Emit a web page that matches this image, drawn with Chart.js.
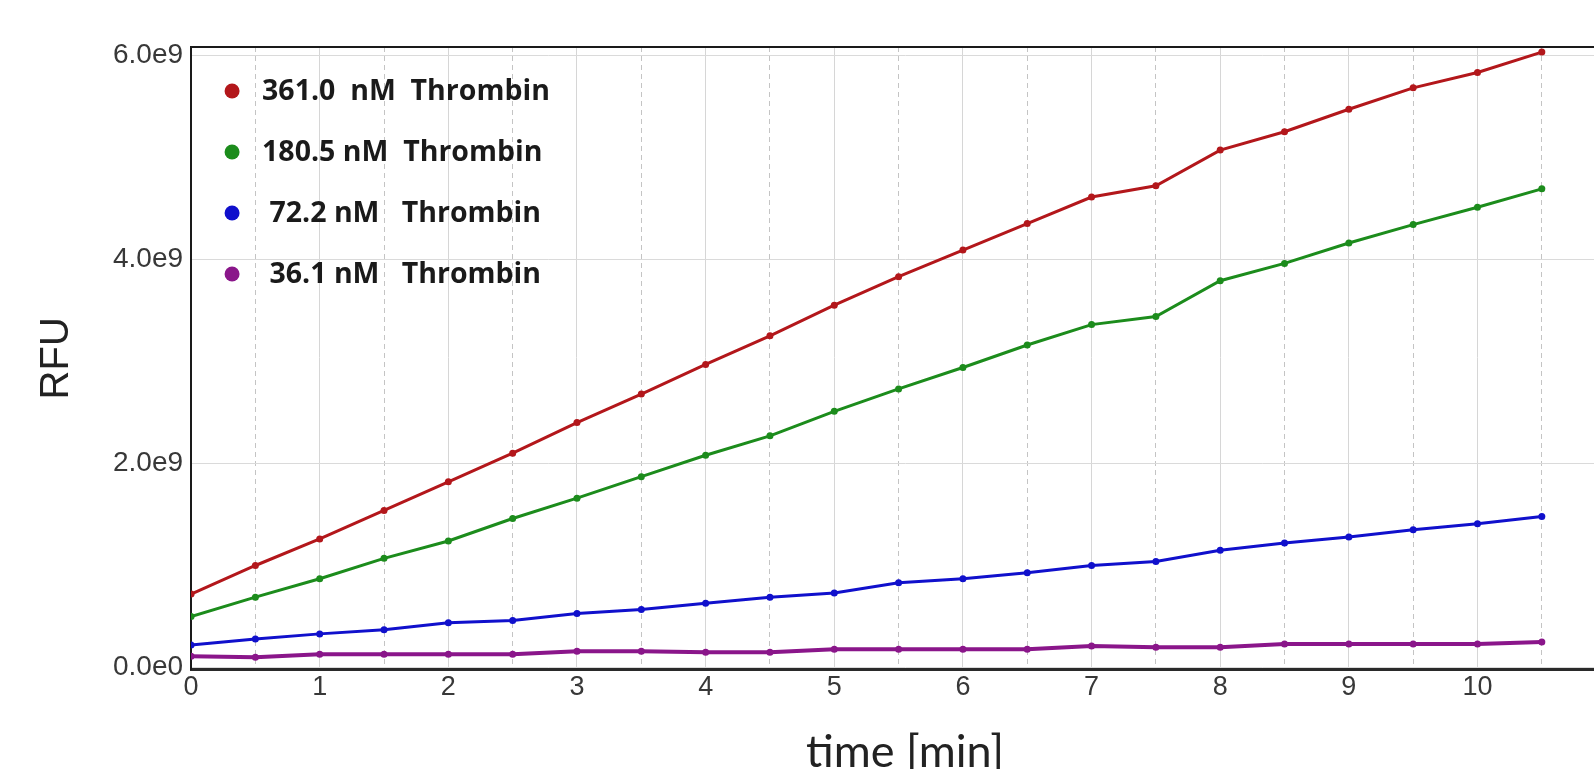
<!DOCTYPE html>
<html>
<head>
<meta charset="utf-8">
<script src="https://cdn.jsdelivr.net/npm/chart.js@4/dist/chart.umd.min.js"></script>
<style>
  html, body { margin: 0; padding: 0; background: #ffffff; overflow: hidden; width: 1594px; height: 769px; }
  #wrap { position: absolute; left: 0; top: 0; width: 1640px; height: 779px; }
</style>
</head>
<body>
<div id="wrap"><canvas id="c"></canvas></div>
<script>
// ---- data ----
const times = [0, 0.5, 1, 1.5, 2, 2.5, 3, 3.5, 4, 4.5, 5, 5.5, 6, 6.5, 7, 7.5, 8, 8.5, 9, 9.5, 10, 10.5];
const seriesLabels = ['361.0  nM  Thrombin', '180.5 nM  Thrombin', ' 72.2 nM   Thrombin', ' 36.1 nM   Thrombin'];
const rfu361 = [0.72e9, 1.00e9, 1.26e9, 1.54e9, 1.82e9, 2.10e9, 2.40e9, 2.68e9, 2.97e9, 3.25e9, 3.55e9, 3.83e9, 4.09e9, 4.35e9, 4.61e9, 4.72e9, 5.07e9, 5.25e9, 5.47e9, 5.68e9, 5.83e9, 6.03e9];
const rfu180 = [0.50e9, 0.69e9, 0.87e9, 1.07e9, 1.24e9, 1.46e9, 1.66e9, 1.87e9, 2.08e9, 2.27e9, 2.51e9, 2.73e9, 2.94e9, 3.16e9, 3.36e9, 3.44e9, 3.79e9, 3.96e9, 4.16e9, 4.34e9, 4.51e9, 4.69e9];
const rfu72 = [0.22e9, 0.28e9, 0.33e9, 0.37e9, 0.44e9, 0.46e9, 0.53e9, 0.57e9, 0.63e9, 0.69e9, 0.73e9, 0.83e9, 0.87e9, 0.93e9, 1.00e9, 1.04e9, 1.15e9, 1.22e9, 1.28e9, 1.35e9, 1.41e9, 1.48e9];
const rfu36 = [0.11e9, 0.10e9, 0.13e9, 0.13e9, 0.13e9, 0.13e9, 0.16e9, 0.16e9, 0.15e9, 0.15e9, 0.18e9, 0.18e9, 0.18e9, 0.18e9, 0.21e9, 0.20e9, 0.20e9, 0.23e9, 0.23e9, 0.23e9, 0.23e9, 0.25e9];
const xTickValues = [0, 0.5, 1, 1.5, 2, 2.5, 3, 3.5, 4, 4.5, 5, 5.5, 6, 6.5, 7, 7.5, 8, 8.5, 9, 9.5, 10, 10.5, 11];
const xTickLabels = ['0', '', '1', '', '2', '', '3', '', '4', '', '5', '', '6', '', '7', '', '8', '', '9', '', '10', '', '11'];
const yTickValues = [0, 2e9, 4e9, 6e9];
const yTickLabels = ['0.0e0', '2.0e9', '4.0e9', '6.0e9'];
const seriesColors = ['#b3171b', '#1c8c1c', '#1010cc', '#8a168a'];
const seriesWidths = [3, 3, 3, 4];

const seriesValues = [rfu361, rfu180, rfu72, rfu36];

const datasets = seriesValues.map((vals, i) => ({
  label: seriesLabels[i],
  data: times.map((t, j) => ({ x: t, y: vals[j] })),
  borderColor: seriesColors[i],
  backgroundColor: seriesColors[i],
  pointBackgroundColor: seriesColors[i],
  pointBorderColor: seriesColors[i],
  pointRadius: 3.5,
  pointBorderWidth: 0,
  pointHoverRadius: 3.5,
  borderWidth: seriesWidths[i],
  tension: 0,
  fill: false
}));

// legend drawn inside the plot area, top-left
const insideLegend = {
  id: 'insideLegend',
  afterDatasetsDraw(chart) {
    const { ctx, chartArea } = chart;
    ctx.save();
    ctx.font = 'bold 28.5px "Open Sans"';
    ctx.textBaseline = 'middle';
    ctx.textAlign = 'left';
    chart.data.datasets.forEach((ds, i) => {
      const cy = chartArea.top + 44 + i * 61;
      const cx = chartArea.left + 41;
      ctx.beginPath();
      ctx.fillStyle = ds.backgroundColor;
      ctx.arc(cx, cy, 7.5, 0, Math.PI * 2);
      ctx.fill();
      ctx.fillStyle = '#1a1a1a';
      ctx.fillText(ds.label, cx + 30, cy + 1);
    });
    ctx.restore();
  }
};

// top frame line of the plot box
const topFrame = {
  id: 'topFrame',
  afterDraw(chart) {
    const { ctx, chartArea } = chart;
    ctx.save();
    ctx.strokeStyle = '#1a1a1a';
    ctx.lineWidth = 2;
    ctx.beginPath();
    ctx.moveTo(chartArea.left - 1, chartArea.top);
    ctx.lineTo(chartArea.right, chartArea.top);
    ctx.stroke();
    ctx.restore();
  }
};

new Chart(document.getElementById('c'), {
  type: 'line',
  data: { datasets },
  plugins: [insideLegend, topFrame],
  options: {
    responsive: true,
    maintainAspectRatio: false,
    animation: false,
    layout: { padding: { top: 47, right: 21, bottom: 0, left: 0 } },
    plugins: { legend: { display: false }, tooltip: { enabled: false } },
    scales: {
      x: {
        type: 'linear',
        min: 0,
        max: 11.1,
        afterBuildTicks: (axis) => { axis.ticks = xTickValues.map(v => ({ value: v })); },
        ticks: {
          autoSkip: false,
          maxRotation: 0,
          padding: 2,
          color: '#383838',
          font: { family: '"Liberation Sans", Arial', size: 27 },
          callback: (v) => { const k = xTickValues.indexOf(v); return k >= 0 ? xTickLabels[k] : ''; }
        },
        grid: {
          drawTicks: false,
          color: (c) => (c.tick && c.tick.value % 1 !== 0) ? '#c4c4c4' : '#d6d6d6',
          lineWidth: 1
        },
        border: {
          display: true,
          color: '#2a2a2a',
          width: 3,
          dash: (c) => (c.tick && c.tick.value % 1 !== 0) ? [5, 4] : []
        },
        title: {
          display: true,
          text: 'time [min]',
          color: '#222222',
          font: { family: 'Lato', size: 45 },
          padding: { top: 19, bottom: 0 }
        }
      },
      y: {
        type: 'linear',
        min: -0.02e9,
        max: 6.08e9,
        afterBuildTicks: (axis) => { axis.ticks = yTickValues.map(v => ({ value: v })); },
        ticks: {
          padding: 8,
          color: '#383838',
          font: { family: '"Liberation Sans", Arial', size: 28 },
          callback: (v) => { const k = yTickValues.indexOf(v); return k >= 0 ? yTickLabels[k] : ''; }
        },
        grid: {
          drawTicks: false,
          color: '#dadada',
          lineWidth: 1
        },
        border: { display: true, color: '#1a1a1a', width: 2 },
        title: {
          display: true,
          text: 'RFU',
          color: '#222222',
          font: { family: '"Liberation Sans", Arial', size: 40 },
          padding: { top: 33, bottom: 24 }
        }
      }
    }
  }
});
</script>
</body>
</html>
